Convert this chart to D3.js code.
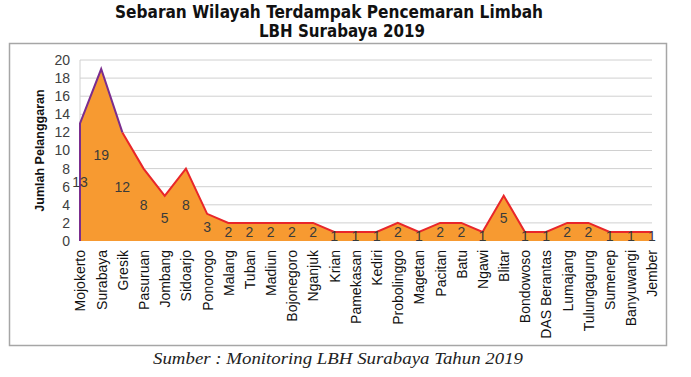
<!DOCTYPE html>
<script src="https://d3js.org/d3.v7.min.js"></script>
<style>
  body { margin: 0; background: #fff; }
</style>
<svg width="691" height="377"></svg>
<script>

    // data
    const regions = ["Mojokerto", "Surabaya", "Gresik", "Pasuruan", "Jombang", "Sidoarjo", "Ponorogo",
        "Malang", "Tuban", "Madiun", "Bojonegoro", "Nganjuk", "Krian", "Pamekasan", "Kediri",
        "Probolinggo", "Magetan", "Pacitan", "Batu", "Ngawi", "Blitar", "Bondowoso", "DAS Berantas",
        "Lumajang", "Tulungagung", "Sumenep", "Banyuwangi", "Jember"];
    const counts = [13, 19, 12, 8, 5, 8, 3, 2, 2, 2, 2, 2, 1, 1, 1, 2, 1, 2, 2, 1, 5, 1, 1, 2, 2, 1, 1, 1];
    const yTicks = [0, 2, 4, 6, 8, 10, 12, 14, 16, 18, 20];
    const titleLines = ["Sebaran Wilayah Terdampak Pencemaran Limbah", "LBH Surabaya 2019"];
    const yTitle = "Jumlah Pelanggaran";
    const source = "Sumber : Monitoring LBH Surabaya Tahun 2019";

    const data = regions.map((r, i) => ({region: r, value: counts[i]}));

    const svg = d3.select("svg");
    const plotLeft = 80, plotRight = 652, plotTop = 60, plotBottom = 241;

    const x = d3.scalePoint().domain(regions).range([plotLeft, plotRight]).padding(0);
    const y = d3.scaleLinear().domain([0, 20]).range([plotBottom, plotTop]);

    // chart frame
    svg.append("rect")
        .attr("x", 9.5).attr("y", 43.5)
        .attr("width", 657).attr("height", 302)
        .attr("fill", "none")
        .attr("stroke", "#a6a6a6")
        .attr("stroke-width", 1.5);

    // title
    svg.selectAll("text.title")
        .data(titleLines)
        .enter()
        .append("text")
        .attr("class", "title")
        .attr("x", (d, i) => i === 0 ? 329 : 342)
        .attr("y", (d, i) => i === 0 ? 18 : 37)
        .attr("text-anchor", "middle")
        .attr("textLength", (d, i) => i === 0 ? 428 : 166)
        .attr("lengthAdjust", "spacingAndGlyphs")
        .style("font-family", "'Liberation Sans Narrow', 'DejaVu Sans Condensed', sans-serif")
        .style("font-weight", "bold")
        .style("font-size", "17px")
        .style("fill", "#111")
        .text(d => d);

    // gridlines
    svg.append("g")
        .selectAll("line")
        .data(yTicks.filter(t => t > 0))
        .enter()
        .append("line")
        .attr("x1", plotLeft).attr("x2", plotRight)
        .attr("y1", d => y(d)).attr("y2", d => y(d))
        .attr("stroke", "#d0d0d0")
        .attr("stroke-width", 1);

    svg.append("line")
        .attr("x1", plotLeft).attr("x2", plotLeft)
        .attr("y1", plotTop).attr("y2", plotBottom)
        .attr("stroke", "#d0d0d0");

    // y axis
    const yAxis = svg.append("g")
        .attr("transform", "translate(" + plotLeft + ",0)")
        .call(d3.axisLeft(y).tickValues(yTicks).tickSize(0).tickPadding(10));
    yAxis.select(".domain").remove();
    yAxis.selectAll("text")
        .style("font-family", "'Liberation Sans', sans-serif")
        .style("font-size", "14px")
        .style("fill", "#404040");

    svg.append("text")
        .attr("transform", "translate(44," + ((plotTop + plotBottom) / 2) + ") rotate(-90)")
        .attr("text-anchor", "middle")
        .style("font-family", "'Liberation Sans', sans-serif")
        .style("font-weight", "bold")
        .style("font-size", "12.5px")
        .style("fill", "#111")
        .text(yTitle);

    // area
    const area = d3.area()
        .x(d => x(d.region))
        .y0(y(0))
        .y1(d => y(d.value));

    svg.append("path")
        .datum(data)
        .attr("fill", "#f79a31")
        .attr("d", area);

    const line = d3.line()
        .x(d => x(d.region))
        .y(d => y(d.value));

    svg.append("path")
        .datum(data.slice(2))
        .attr("fill", "none")
        .attr("stroke", "#e8262a")
        .attr("stroke-width", 2)
        .attr("d", line);

    svg.append("path")
        .datum([{region: regions[0], value: 0}].concat(data.slice(0, 3)))
        .attr("fill", "none")
        .attr("stroke", "#7b2d8e")
        .attr("stroke-width", 2)
        .attr("d", line);

    // data labels
    svg.append("g")
        .selectAll("text")
        .data(data)
        .enter()
        .append("text")
        .attr("x", d => x(d.region))
        .attr("y", d => y(d.value / 2) + 5)
        .attr("text-anchor", "middle")
        .style("font-family", "'Liberation Sans', sans-serif")
        .style("font-size", "14px")
        .style("fill", "#3a3a3a")
        .text(d => d.value);

    // x axis labels
    const xAxis = svg.append("g")
        .attr("transform", "translate(0," + plotBottom + ")")
        .call(d3.axisBottom(x).tickSize(0).tickPadding(0));
    xAxis.select(".domain").remove();
    xAxis.selectAll("text")
        .attr("transform", "rotate(-90)")
        .attr("x", -9)
        .attr("y", 0)
        .attr("dy", "0.35em")
        .attr("text-anchor", "end")
        .style("font-family", "'Liberation Sans', sans-serif")
        .style("font-size", "14px")
        .style("fill", "#111");

    // source note
    svg.append("text")
        .attr("x", 338)
        .attr("y", 364)
        .attr("text-anchor", "middle")
        .attr("textLength", 370)
        .attr("lengthAdjust", "spacingAndGlyphs")
        .style("font-family", "'Liberation Serif', serif")
        .style("font-style", "italic")
        .style("font-size", "17px")
        .style("fill", "#222")
        .text(source);

</script>
